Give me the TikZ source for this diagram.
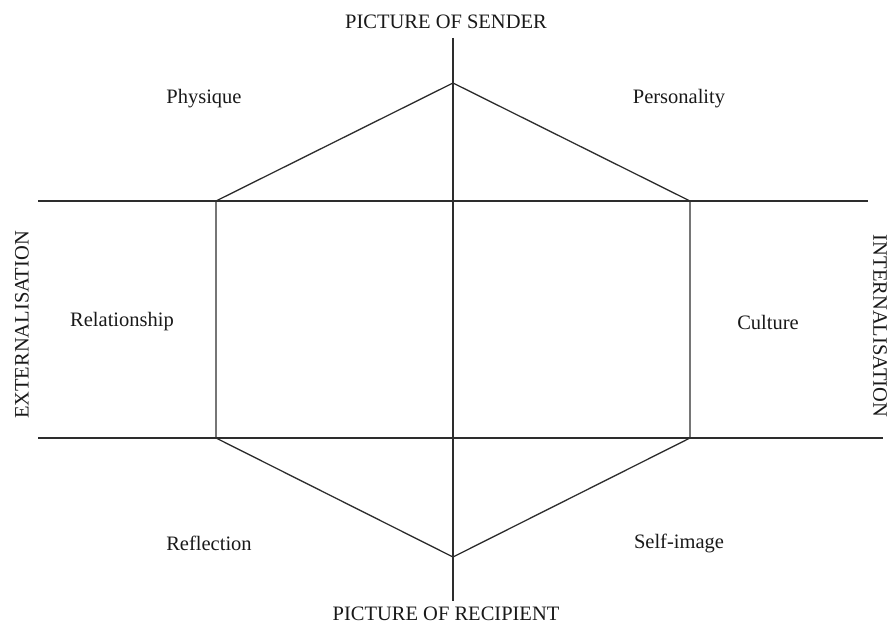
\documentclass[tikz,border=0pt]{standalone}
\usepackage{fontspec}
\setmainfont{Liberation Serif}
\usetikzlibrary{positioning}
\definecolor{TemaLinea}{RGB}{45,45,45}
\definecolor{TemaTexto}{RGB}{25,25,25}
\begin{document}
\begin{tikzpicture}[x=1pt, y=-1pt, font=\fontsize{20.5}{24}\selectfont,
  linea/.style={draw=TemaLinea, line width=1.3pt},
  etiqueta/.style={inner sep=0pt, text=TemaTexto, anchor=center}]
  \useasboundingbox (0,0) rectangle (890,626);
  % vertices del prisma
  \coordinate (arr) at (453,83);
  \coordinate (ab) at (453,557);
  \coordinate (izqsup) at (216,201);
  \coordinate (izqinf) at (216,438);
  \coordinate (dersup) at (690,201);
  \coordinate (derinf) at (690,438);
  % extremos de los ejes
  \coordinate (ejearr) at (453,38);
  \coordinate (ejeab) at (453,601);
  \coordinate (hsupizq) at (38,201);
  \coordinate (hsupder) at (868,201);
  \coordinate (hinfizq) at (38,438);
  \coordinate (hinfder) at (883,438);
  \draw[linea] (ejearr) -- (ejeab);
  \draw[linea] (hsupizq) -- (hsupder);
  \draw[linea] (hinfizq) -- (hinfder);
  \draw[linea] (arr) -- (dersup) -- (derinf) -- (ab) -- (izqinf) -- (izqsup) -- cycle;
  % textos
  \node[etiqueta] (emisor) at (446,22) {PICTURE OF SENDER};
  \node[etiqueta] (receptor) at (446,614) {PICTURE OF RECIPIENT};
  \node[etiqueta, rotate=90] (externa) at (22,325) {EXTERNALISATION};
  \node[etiqueta, rotate=-90] (interna) at (880,326) {INTERNALISATION};
  \node[etiqueta] (fisico) at (204,99) {Physique};
  \node[etiqueta] (personalidad) at (679,99) {Personality};
  \node[etiqueta] (relacion) at (122,322) {Relationship};
  \node[etiqueta] (cultura) at (768,322) {Culture};
  \node[etiqueta] (reflejo) at (209,543) {Reflection};
  \node[etiqueta] (autoimagen) at (679,543) {Self-image};
\end{tikzpicture}
\end{document}
